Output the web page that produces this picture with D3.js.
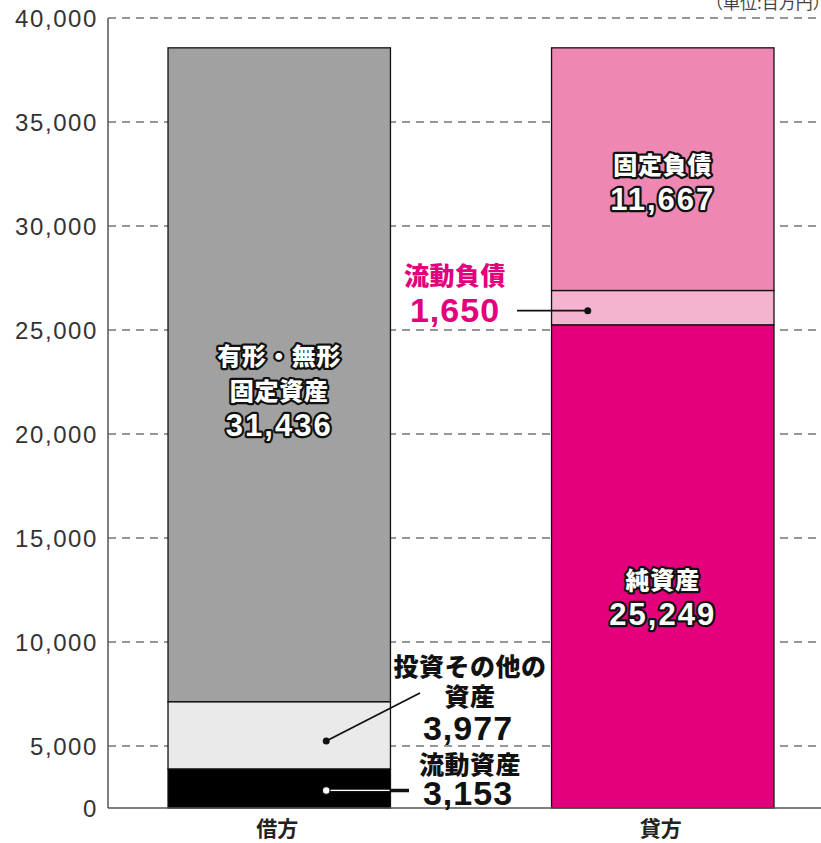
<!DOCTYPE html>
<html><head><meta charset="utf-8">
<script src="https://cdn.jsdelivr.net/npm/d3@7"></script>
<style>
html,body{margin:0;padding:0;background:#fff;overflow:hidden;}
svg{display:block;}
</style></head>
<body>
<svg id="chart" width="821" height="843"></svg>
<script>
// ---- data ----
const categories = ['借方', '貸方'];
const leftSegments = ['流動資産', '投資その他の資産', '有形・無形固定資産'];
const leftValues = [3153, 3977, 31436];
const rightSegments = ['純資産', '流動負債', '固定負債'];
const rightValues = [25249, 1650, 11667];
const tickValues = [0, 5000, 10000, 15000, 20000, 25000, 30000, 35000, 40000];
const unitLabel = '（単位:百万円）';

// ---- styles ----
const leftColors = ['#000000', '#e9eae9', '#a0a1a0'];
const rightColors = ['#e4007c', '#f4b4cf', '#ee87b1'];
const magenta = '#e4007c';
const jp = '"Noto Sans CJK JP", "Noto Sans", sans-serif';
const num = '"Liberation Sans", Arial, sans-serif';

const svg = d3.select('#chart');
const W = 821, H = 843;

const y = d3.scaleLinear().domain([0, 5000, 40000]).range([808, 746, 18]);
const x = d3.scaleBand().domain(categories).range([108, 834]).paddingInner(0.42).paddingOuter(0.1565);

// gridlines
svg.append('g').selectAll('line').data(tickValues.filter(d => d > 0)).join('line')
  .attr('x1', 108).attr('x2', W).attr('y1', d => y(d)).attr('y2', d => y(d))
  .attr('stroke', '#767676').attr('stroke-width', 1.6).attr('stroke-dasharray', '8,6');

// y axis
const yAxis = d3.axisLeft(y).tickValues(tickValues).tickSize(0).tickPadding(10)
  .tickFormat(d3.format(','));
const ga = svg.append('g').attr('transform', 'translate(108,0)').call(yAxis);
ga.select('.domain').remove();
ga.selectAll('text').attr('font-family', num).attr('font-size', 24)
  .attr('fill', '#333').attr('letter-spacing', 1.6).attr('dy', '0.36em');
svg.append('line').attr('x1', 108).attr('x2', 108).attr('y1', y(40000)).attr('y2', y(0))
  .attr('stroke', '#555').attr('stroke-width', 1.5);

// stacked bars
function stackSegs(values) {
  let acc = 0;
  return values.map(v => { const s = {y0: acc, y1: acc + v, v}; acc += v; return s; });
}
const leftStack = stackSegs(leftValues);
const rightStack = stackSegs(rightValues);
const bars = [
  {cat: categories[0], segs: leftStack, colors: leftColors},
  {cat: categories[1], segs: rightStack, colors: rightColors}
];
bars.forEach(b => {
  svg.append('g').selectAll('rect').data(b.segs).join('rect')
    .attr('x', x(b.cat)).attr('width', x.bandwidth())
    .attr('y', d => y(d.y1)).attr('height', d => y(d.y0) - y(d.y1))
    .attr('fill', (d, i) => b.colors[i])
    .attr('stroke', '#111').attr('stroke-width', 1.3);
});

// bottom axis line
svg.append('line').attr('x1', 108).attr('x2', W).attr('y1', y(0)).attr('y2', y(0))
  .attr('stroke', '#555').attr('stroke-width', 1.5);

// category labels
svg.append('g').selectAll('text').data(categories).join('text')
  .attr('x', d => x(d) + x.bandwidth() / 2 - 2).attr('y', 827)
  .attr('text-anchor', 'middle').attr('dominant-baseline', 'central')
  .attr('font-family', jp).attr('font-size', 21).attr('font-weight', 700).attr('fill', '#222')
  .text(d => d);

// unit label (clipped at right edge)
svg.append('text').attr('x', 706).attr('y', 9).attr('font-family', jp)
  .attr('font-size', 17).attr('fill', '#444').text(unitLabel);

const fmt = d3.format(',');
function outlined(xp, yp, txt, size, font) {
  svg.append('text').attr('x', xp).attr('y', yp)
    .attr('text-anchor', 'middle').attr('dominant-baseline', 'central')
    .attr('font-family', font).attr('font-size', size).attr('font-weight', font === num ? 700 : 900)
    .attr('letter-spacing', font === num ? 2 : 0.8)
    .attr('fill', '#fff').attr('stroke', '#111').attr('stroke-width', 4.5)
    .attr('stroke-linejoin', 'round').attr('paint-order', 'stroke')
    .text(txt);
}
function plain(xp, yp, txt, size, font, color) {
  svg.append('text').attr('x', xp).attr('y', yp)
    .attr('text-anchor', 'middle').attr('dominant-baseline', 'central')
    .attr('font-family', font).attr('font-size', size).attr('font-weight', font === num ? 700 : 900)
    .attr('letter-spacing', font === num ? 1 : 0.5)
    .attr('fill', color).text(txt);
}

const lc = x(categories[0]) + x.bandwidth() / 2;
const rc = x(categories[1]) + x.bandwidth() / 2;

// in-bar labels
outlined(lc, 354, '有形・無形', 24, jp);
outlined(lc, 389, '固定資産', 24, jp);
outlined(lc, 425, fmt(leftValues[2]), 31, num);
outlined(rc, 163, '固定負債', 24, jp);
outlined(rc, 199, fmt(rightValues[2]), 31, num);
outlined(rc, 578, '純資産', 24, jp);
outlined(rc, 614, fmt(rightValues[0]), 31, num);

// 流動負債 callout
const pinkMid = y((rightStack[1].y0 + rightStack[1].y1) / 2) + 3;
svg.append('line').attr('x1', 517).attr('x2', rc - 75).attr('y1', pinkMid).attr('y2', pinkMid)
  .attr('stroke', '#111').attr('stroke-width', 1.8);
svg.append('circle').attr('cx', rc - 75).attr('cy', pinkMid).attr('r', 3.5).attr('fill', '#111');
plain(455, 274, '流動負債', 25, jp, magenta);
plain(455, 310, fmt(rightValues[1]), 34, num, magenta);

// 投資その他の資産 callout
const invMid = y((leftStack[1].y0 + leftStack[1].y1) / 2) - 2;
svg.append('line').attr('x1', lc + 47).attr('y1', invMid).attr('x2', 420).attr('y2', 693)
  .attr('stroke', '#111').attr('stroke-width', 1.8);
svg.append('circle').attr('cx', lc + 47).attr('cy', invMid).attr('r', 3.5).attr('fill', '#111');
plain(470, 665, '投資その他の', 25, jp, '#111');
plain(470, 695, '資産', 25, jp, '#111');
plain(468, 728, fmt(leftValues[1]), 34, num, '#111');

// 流動資産 callout
const curMid = y((leftStack[0].y0 + leftStack[0].y1) / 2) + 2;
svg.append('line').attr('x1', lc + 47).attr('x2', 409).attr('y1', curMid).attr('y2', curMid)
  .attr('stroke', '#111').attr('stroke-width', 3.5);
svg.append('line').attr('x1', lc + 47).attr('x2', x(categories[0]) + x.bandwidth() - 1).attr('y1', curMid).attr('y2', curMid)
  .attr('stroke', '#fff').attr('stroke-width', 1.2);
svg.append('circle').attr('cx', lc + 47).attr('cy', curMid).attr('r', 3.8)
  .attr('fill', '#fff').attr('stroke', '#111').attr('stroke-width', 1.2);
plain(470, 763, '流動資産', 25, jp, '#111');
plain(468, 793, fmt(leftValues[0]), 34, num, '#111');
</script>
</body></html>
